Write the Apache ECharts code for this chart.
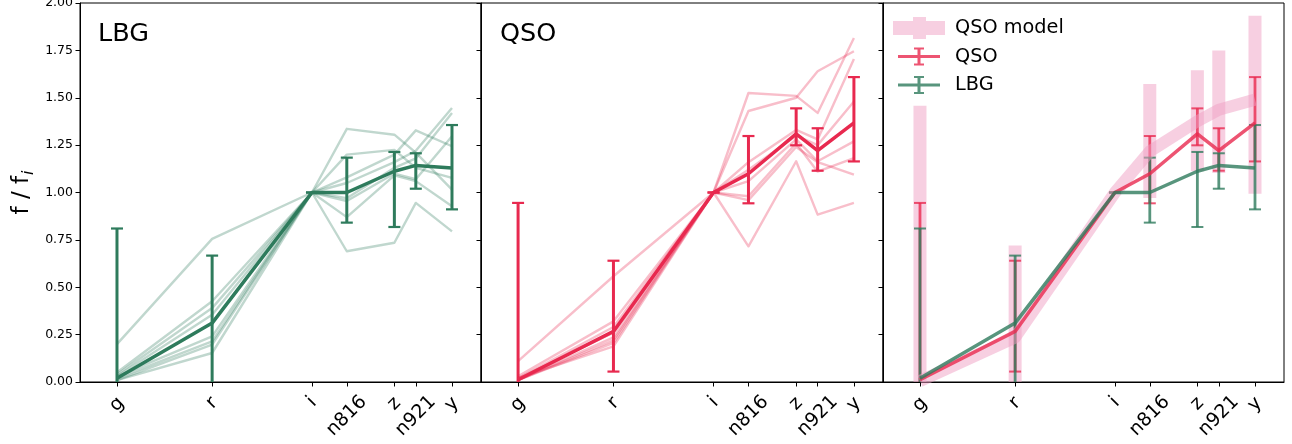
<!DOCTYPE html>
<html><head><meta charset="utf-8">
<script src="https://cdn.jsdelivr.net/npm/echarts@6/dist/echarts.min.js"></script>
<style>html,body{margin:0;padding:0;background:#fff}#c{width:1292px;height:444px}</style>
</head><body><div id="c"></div>
<script>
// ---------- data ----------
const bands = ['g', 'r', 'i', 'n816', 'z', 'n921', 'y'];
const bandWave = [4770, 6190, 7680, 8200, 8910, 9230, 9770];
const yTicks = [0, 0.25, 0.5, 0.75, 1.0, 1.25, 1.5, 1.75, 2.0];

const lbgMean = [0.02, 0.311, 1.0, 1.0, 1.112, 1.143, 1.129];
const lbgLow  = [-0.77, -0.045, 1.0, 0.841, 0.818, 1.020, 0.911];
const lbgHigh = [0.81, 0.667, 1.0, 1.184, 1.214, 1.207, 1.356];

const lbgObj1 = [0.20, 0.755, 1, 1.20, 1.225, 1.13, 1.077];
const lbgObj2 = [0.05, 0.426, 1, 1.336, 1.305, 1.21, 1.015];
const lbgObj3 = [0.04, 0.39, 1, 1.08, 1.20, 1.328, 1.244];
const lbgObj4 = [0.03, 0.355, 1, 1.05, 1.16, 1.22, 1.446];
const lbgObj5 = [0.03, 0.241, 1, 0.97, 1.13, 1.18, 1.42];
const lbgObj6 = [0.02, 0.214, 1, 0.955, 1.10, 1.07, 1.297];
const lbgObj7 = [0.01, 0.197, 1, 0.87, 1.09, 1.06, 0.927];
const lbgObj8 = [0.01, 0.153, 1, 0.69, 0.735, 0.945, 0.795];

const qsoMean = [0.012, 0.267, 1.0, 1.099, 1.309, 1.221, 1.367];
const qsoLow  = [-0.92, 0.055, 1.0, 0.943, 1.249, 1.115, 1.164];
const qsoHigh = [0.945, 0.640, 1.0, 1.298, 1.444, 1.339, 1.609];

const qsoObj1 = [0.11, 0.558, 1, 1.43, 1.50, 1.64, 1.745];
const qsoObj2 = [0.03, 0.32, 1, 1.525, 1.51, 1.42, 1.815];
const qsoObj3 = [0.02, 0.29, 1, 1.16, 1.33, 1.28, 1.705];
const qsoObj4 = [0.02, 0.26, 1, 1.12, 1.30, 1.25, 1.48];
const qsoObj5 = [0.01, 0.235, 1, 1.06, 1.28, 1.165, 1.27];
const qsoObj6 = [0.01, 0.22, 1, 0.98, 1.26, 1.11, 1.182];
const qsoObj7 = [0.01, 0.206, 1, 0.96, 1.24, 1.16, 1.094];
const qsoObj8 = [0.02, 0.188, 1, 0.716, 1.165, 0.883, 0.945];

const modelMean = [0.005, 0.235, 1.0, 1.217, 1.376, 1.437, 1.49];
const modelLow  = [-1.4, -0.3, 1.0, 0.971, 1.112, 1.103, 0.994];
const modelHigh = [1.458, 0.72, 1.0, 1.573, 1.645, 1.75, 1.933];

// ---------- style ----------
const FONT = 'DejaVu Sans';
const GREEN = '#2e7b5c';
const RED = '#e8294f';
const PINK = '#f0a0c4';
const xMin = 4218, xMax = 10203;
const labelShift = { g: 2.5, r: 1, i: 0, n816: 14, z: 1.7, n921: 14, y: 2.2 };

const pts = arr => arr.map((v, k) => [bandWave[k], v]);
const errData = (lo, hi) => lo.map((v, k) => [bandWave[k], v, hi[k]]);

function errRender(color, lw, capW, capLw, opacity) {
  return function (params, api) {
    const cs = params.coordSys;
    const x = api.value(0), lo = api.value(1), hi = api.value(2);
    const pLo = api.coord([x, lo]), pHi = api.coord([x, hi]);
    const top = cs.y, bot = cs.y + cs.height;
    const y1 = Math.max(pHi[1], top), y2 = Math.min(pLo[1], bot);
    const ch = [];
    if (y2 > y1) ch.push({ type: 'line', shape: { x1: pHi[0], y1: y1, x2: pHi[0], y2: y2 },
      style: { stroke: color, lineWidth: lw, opacity: opacity, lineCap: 'butt' } });
    if (capW > 0) {
      [pHi[1], pLo[1]].forEach(yy => {
        if (yy >= top && yy <= bot) ch.push({ type: 'line',
          shape: { x1: pHi[0] - capW / 2, y1: yy, x2: pHi[0] + capW / 2, y2: yy },
          style: { stroke: color, lineWidth: capLw, opacity: opacity } });
      });
    }
    return { type: 'group', children: ch };
  };
}

const richX = {};
bands.forEach(b => {
  const p = 1.414 * labelShift[b];
  richX[b] = { fontSize: 19, fontFamily: FONT, color: '#000', padding: [p, p, 0, 0] };
});

const grids = [
  { left: 80, top: 3, width: 401, height: 379 },
  { left: 481, top: 3, width: 402, height: 379 },
  { left: 883, top: 3, width: 401, height: 379 }
].map(g => Object.assign(g, { show: true, borderColor: '#000', borderWidth: 1, backgroundColor: 'transparent', outerBoundsMode: 'none', containLabel: false }));

const xAxes = [0, 1, 2].map(i => ({
  gridIndex: i, type: 'value', min: xMin, max: xMax,
  axisLine: { show: true, onZero: false, lineStyle: { color: '#000', width: 1 } },
  axisTick: { show: true, customValues: bandWave, length: 4.5, lineStyle: { color: '#000', width: 1 } },
  axisLabel: {
    show: true, customValues: bandWave, rotate: 45, align: 'center', verticalAlign: 'middle',
    margin: 20, fontSize: 19, fontFamily: FONT, color: '#000',
    formatter: v => { const k = bandWave.indexOf(v); return k < 0 ? '' : '{' + bands[k] + '|' + bands[k] + '}'; },
    rich: richX
  },
  splitLine: { show: false }
}));

const yAxes = [0, 1, 2].map(i => ({
  gridIndex: i, type: 'value', min: 0, max: 2, interval: 0.25,
  axisLine: { show: true, onZero: false, lineStyle: { color: '#000', width: 1 } },
  axisTick: { show: true, length: 4.5, lineStyle: { color: '#000', width: 1 } },
  axisLabel: { show: i === 0, fontSize: 12.5, fontFamily: FONT, color: '#000', margin: 7,
    formatter: v => v.toFixed(2) },
  splitLine: { show: false },
  name: i === 0 ? '{a|f / f}{b|i}' : '',
  nameLocation: 'middle', nameRotate: 90, nameGap: 43,
  nameTextStyle: { fontFamily: FONT, color: '#000',
    rich: { a: { fontSize: 23, fontFamily: FONT, color: '#000' },
            b: { fontSize: 16, fontFamily: FONT, fontStyle: 'italic', color: '#000', padding: [14, 0, 0, 1] } } }
}));

function faint(arr, color, gi) {
  return { type: 'line', xAxisIndex: gi, yAxisIndex: gi, data: pts(arr), showSymbol: false, symbol: 'none',
    silent: true, lineStyle: { color: color, width: 2.4, opacity: 0.3, join: 'round' } };
}
function mainLine(name, arr, color, gi, width, opacity) {
  return { name: name, type: 'line', xAxisIndex: gi, yAxisIndex: gi, data: pts(arr), showSymbol: false, symbol: 'none',
    silent: true, itemStyle: { color: color }, lineStyle: { color: color, width: width, opacity: opacity, join: 'round' } };
}
function errSeries(lo, hi, color, gi, lw, capW, capLw, opacity) {
  return { type: 'custom', xAxisIndex: gi, yAxisIndex: gi, silent: true, data: errData(lo, hi),
    encode: { x: 0, y: [1, 2] }, renderItem: errRender(color, lw, capW, capLw, opacity) };
}

const series = [];
[lbgObj1, lbgObj2, lbgObj3, lbgObj4, lbgObj5, lbgObj6, lbgObj7, lbgObj8].forEach(a => series.push(faint(a, GREEN, 0)));
series.push(mainLine('LBG mean', lbgMean, GREEN, 0, 3.5, 1));
series.push(errSeries(lbgLow, lbgHigh, GREEN, 0, 3, 12, 2.2, 1));

[qsoObj1, qsoObj2, qsoObj3, qsoObj4, qsoObj5, qsoObj6, qsoObj7, qsoObj8].forEach(a => series.push(faint(a, RED, 1)));
series.push(mainLine('QSO mean', qsoMean, RED, 1, 3.5, 1));
series.push(errSeries(qsoLow, qsoHigh, RED, 1, 3, 12, 2.2, 1));

series.push(mainLine('QSO model', modelMean, PINK, 2, 12, 0.5));
series.push(errSeries(modelLow, modelHigh, PINK, 2, 13, 0, 0, 0.5));
series.push(mainLine('QSO', qsoMean, RED, 2, 3.5, 0.8));
series.push(errSeries(qsoLow, qsoHigh, RED, 2, 2.8, 12, 2, 0.8));
series.push(mainLine('LBG', lbgMean, GREEN, 2, 3.5, 0.8));
series.push(errSeries(lbgLow, lbgHigh, GREEN, 2, 2.8, 12, 2, 0.8));

const iconModel = 'path://M0 0 M57 24 M0 5 L52 5 L52 19 L0 19 Z M20 1 L33 1 L33 23 L20 23 Z';
const iconErr = 'path://M0 0 M57 24 M5 10.5 L47 10.5 L47 13.5 L5 13.5 Z M24.5 3 L27.5 3 L27.5 21 L24.5 21 Z M21 3 L31 3 L31 5 L21 5 Z M21 19 L31 19 L31 21 L21 21 Z';

const option = {
  animation: false,
  backgroundColor: '#fff',
  title: [
    { text: 'LBG', left: 98, top: 21, padding: 0, textStyle: { fontSize: 25.5, fontWeight: 'normal', fontFamily: FONT, color: '#000' } },
    { text: 'QSO', left: 500, top: 21, padding: 0, textStyle: { fontSize: 25.5, fontWeight: 'normal', fontFamily: FONT, color: '#000' } }
  ],
  legend: {
    left: 893, top: 16, orient: 'vertical', padding: 0, itemGap: 4.5, itemWidth: 57, itemHeight: 24,
    selectedMode: false,
    textStyle: { fontSize: 19.3, fontFamily: FONT, color: '#000' },
    data: [
      { name: 'QSO model', icon: iconModel, itemStyle: { color: PINK, opacity: 0.5, borderWidth: 0 } },
      { name: 'QSO', icon: iconErr, itemStyle: { color: RED, opacity: 0.8, borderWidth: 0 } },
      { name: 'LBG', icon: iconErr, itemStyle: { color: GREEN, opacity: 0.8, borderWidth: 0 } }
    ]
  },
  grid: grids,
  xAxis: xAxes,
  yAxis: yAxes,
  series: series
};

const chart = echarts.init(document.getElementById('c'), null, { renderer: 'canvas' });
chart.setOption(option);
</script>
</body></html>
